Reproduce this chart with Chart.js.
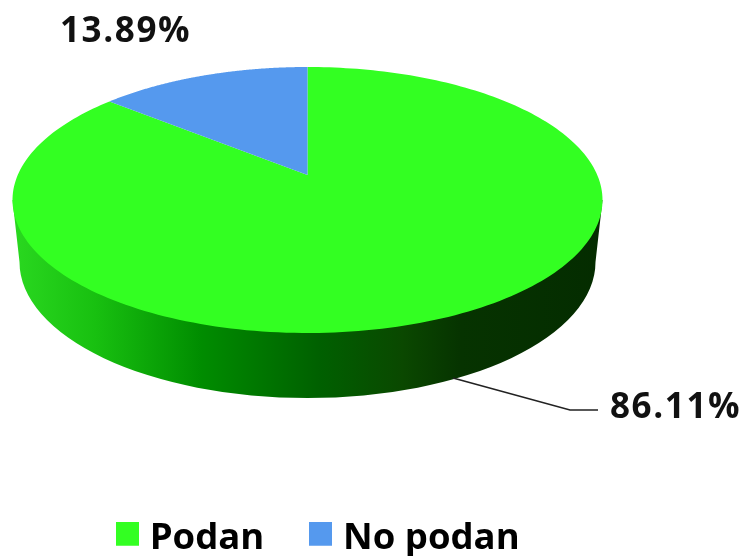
<!DOCTYPE html>
<html lang="en">
<head>
    <meta charset="UTF-8">
    <title>Podan</title>
    <script src="https://cdn.jsdelivr.net/npm/chart.js"></script>
    <style>
        html, body { margin: 0; padding: 0; background: #fff; }
        canvas { display: block; }
    </style>
</head>
<body>
<canvas id="pieChart" width="743" height="556"></canvas>

<script>
    const categories = ['Podan', 'No podan'];
    const shares = [86.11, 13.89];
    const sliceColors = ['#33ff22', '#5599ee'];

    // Legend swatch as a small canvas, so the gap to the text can stay narrow.
    // The empty strip below it lifts the square a little against the text.
    function makeSwatch(color) {
        const c = document.createElement('canvas');
        c.width = 23;
        c.height = 34;
        const g = c.getContext('2d');
        g.fillStyle = color;
        g.fillRect(0, 0, 23, 24);
        return c;
    }

    // Perspective pie: reads the angles of the arcs and draws them as a tilted disc
    const tiltedPie = {
        id: 'tiltedPie',
        afterLayout(chart) {
            // legend sits lower than the default layout puts it
            chart.legend.top += 11;
            chart.legend.bottom += 11;
        },
        beforeDatasetsDraw(chart) {
            const ctx = chart.ctx;
            const arcs = chart.getDatasetMeta(0).data;
            const cx = 307.5, cy = 200, rx = 295, ry = 133;
            const tilt = 0.188;   // how far the apex sits above the middle of the ellipse
            const squeeze = Math.sqrt(1 - tilt * tilt);

            function project(angle) {
                const u = Math.cos(angle), v = -Math.sin(angle);
                const w = 1 + tilt * v;
                return [cx + rx * u * squeeze / w, cy - ry * (v + tilt) / w];
            }

            ctx.save();

            // side wall
            const side = ctx.createLinearGradient(13, 0, 603, 0);
            side.addColorStop(0, '#2ad820');
            side.addColorStop(0.14, '#18c010');
            side.addColorStop(0.32, '#008c00');
            side.addColorStop(0.52, '#006000');
            side.addColorStop(0.66, '#0a4800');
            side.addColorStop(0.76, '#063300');
            side.addColorStop(1, '#042c00');
            ctx.beginPath();
            ctx.moveTo(cx - rx, cy);
            ctx.ellipse(cx, 262, 288, 136, 0, Math.PI, 0, true);
            ctx.lineTo(cx + rx, cy);
            ctx.closePath();
            ctx.fillStyle = side;
            ctx.fill();

            // top face
            arcs.forEach((arc, i) => {
                const { startAngle, endAngle } = arc.getProps(['startAngle', 'endAngle'], true);
                const steps = 240;
                ctx.beginPath();
                ctx.moveTo(cx, cy - ry * tilt);
                for (let s = 0; s <= steps; s++) {
                    const p = project(startAngle + (endAngle - startAngle) * s / steps);
                    ctx.lineTo(p[0], p[1]);
                }
                ctx.closePath();
                ctx.fillStyle = sliceColors[i];
                ctx.fill();
            });

            // leader line
            ctx.beginPath();
            ctx.moveTo(453, 378);
            ctx.lineTo(570, 410);
            ctx.lineTo(598, 410);
            ctx.strokeStyle = '#222';
            ctx.lineWidth = 1.6;
            ctx.stroke();

            // value labels
            ctx.fillStyle = '#111';
            ctx.font = 'bold 35px "Open Sans"';
            ctx.letterSpacing = '1.6px';
            ctx.textBaseline = 'alphabetic';
            ctx.textAlign = 'left';
            ctx.fillText(shares[0].toFixed(2) + '%', 610, 418);
            ctx.fillText(shares[1].toFixed(2) + '%', 60, 42);

            ctx.restore();
            return false;
        }
    };

    new Chart(document.getElementById('pieChart').getContext('2d'), {
        type: 'pie',
        data: {
            labels: categories,
            datasets: [{
                data: shares,
                backgroundColor: sliceColors,
                borderWidth: 0
            }]
        },
        options: {
            responsive: false,
            animation: false,
            layout: { padding: { right: 100 } },
            plugins: {
                tooltip: { enabled: false },
                legend: {
                    position: 'bottom',
                    labels: {
                        usePointStyle: true,
                        boxWidth: 8,
                        boxHeight: 23,
                        padding: 52.5,
                        color: '#111',
                        font: { family: '"Open Sans"', size: 36.5, weight: 'bold' },
                        generateLabels: () => categories.map((name, i) => ({
                            text: name,
                            fillStyle: sliceColors[i],
                            strokeStyle: sliceColors[i],
                            lineWidth: 0,
                            pointStyle: makeSwatch(sliceColors[i]),
                            index: i
                        }))
                    }
                }
            }
        },
        plugins: [tiltedPie]
    });
</script>
</body>
</html>
